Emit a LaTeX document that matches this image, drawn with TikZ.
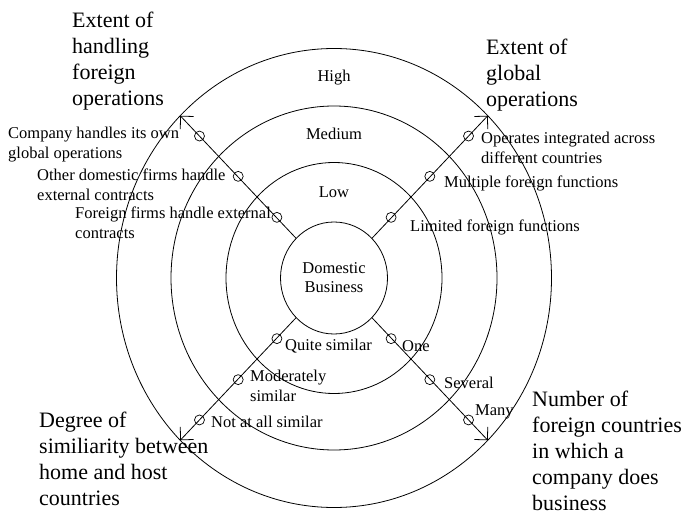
\documentclass[tikz,border=0pt]{standalone}
\usepackage{fontspec}
\setmainfont{Liberation Serif}
\usetikzlibrary{shapes.geometric,arrows.meta,calc}

\begin{document}
\begin{tikzpicture}[x=1pt,y=-1pt,
  ring/.style={ellipse,draw,line width=0.8pt,inner sep=0pt,outer sep=0pt},
  axis/.style={line width=0.8pt,-{Straight Barb[angle=90:13pt]}},
  dot/.style={circle,draw,line width=0.7pt,minimum size=10pt,inner sep=0pt},
  lbl/.style={font=\fontsize{16.5}{20}\selectfont,align=left,inner sep=0pt,anchor=west},
  big/.style={font=\fontsize{22}{26}\selectfont,align=left,inner sep=0pt,anchor=west}]
  \useasboundingbox (0,0) rectangle (684,518);
  \coordinate (c) at (334,278);
  % rings
  \node [ring,minimum width=435pt,minimum height=459pt] (highring) at (c) {};
  \node [ring,minimum width=326pt,minimum height=344pt] (medring) at (c) {};
  \node [ring,minimum width=216pt,minimum height=231pt] (lowring) at (c) {};
  \node [ring,minimum width=107pt,minimum height=112pt,align=center,
    font=\fontsize{16.5}{19}\selectfont] (dom) at (c) {Domestic\\Business};
  \node [lbl,anchor=center] (high) at ($(highring.north)!0.5!(medring.north)$) {High};
  \node [lbl,anchor=center] (medium) at ($(medring.north)!0.5!(lowring.north)$) {Medium};
  \node [lbl,anchor=center] (low) at ($(lowring.north)!0.5!(dom.north)$) {Low};
  % axes with one marker per band
  \foreach \a/\n in {north west/tl,north east/tr,south west/bl,south east/br} {
    \draw [axis] (dom.\a) -- (highring.\a);
    \node [dot] (\n1) at ($(dom.\a)!0.5!(lowring.\a)$) {};
    \node [dot] (\n2) at ($(lowring.\a)!0.5!(medring.\a)$) {};
    \node [dot] (\n3) at ($(medring.\a)!0.5!(highring.\a)$) {};
  }
  % marker labels
  \node [lbl] (tl3l) at (8,145) {Company handles its own\\global operations};
  \node [lbl] (tl2l) at (37,184.5) {Other domestic firms handle\\external contracts};
  \node [lbl] (tl1l) at (75,222.5) {Foreign firms handle external\\contracts};
  \node [lbl] (tr3l) at (481,148) {Operates integrated across\\different countries};
  \node [lbl] (tr2l) at (444,183) {Multiple foreign functions};
  \node [lbl] (tr1l) at (410,227) {Limited foreign functions};
  \node [lbl] (bl1l) at (285,346) {Quite similar};
  \node [lbl] (bl2l) at (250,386) {Moderately\\similar};
  \node [lbl] (bl3l) at (211,422) {Not at all similar};
  \node [lbl] (br1l) at (402,346) {One};
  \node [lbl] (br2l) at (444,383) {Several};
  \node [lbl] (br3l) at (475,412) {Many};
  % axis titles
  \node [big] (tlt) at (72,61) {Extent of\\handling\\foreign\\operations};
  \node [big] (trt) at (486,75) {Extent of\\global\\operations};
  \node [big] (blt) at (39,459) {Degree of\\similiarity between\\home and host\\countries};
  \node [big] (brt) at (532,451) {Number of\\foreign countries\\in which a\\company does\\business};
\end{tikzpicture}
\end{document}
